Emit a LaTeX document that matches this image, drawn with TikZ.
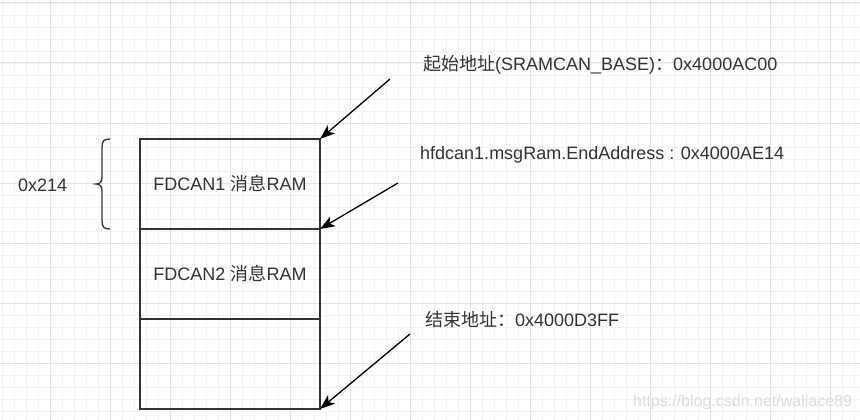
\documentclass[tikz,border=0pt]{standalone}
\usepackage{fontspec}
\setmainfont{Liberation Sans}
\newfontfamily\cjk{Noto Sans CJK SC}
\usetikzlibrary{positioning,arrows.meta}
\definecolor{gridmajor}{HTML}{E3E3E3}
\definecolor{gridminor}{HTML}{F3F3F3}
\definecolor{boxline}{HTML}{333333}
\definecolor{wmark}{HTML}{DDDDDD}
\tikzset{
  cell/.style={draw=boxline,line width=1.5pt,minimum width=180pt,minimum height=90pt,
    inner sep=0pt,outer sep=0pt,text=boxline,font=\fontsize{18}{22}\selectfont},
  addr/.style={anchor=west,inner sep=0pt,text=boxline,font=\fontsize{18}{22}\selectfont},
  ptr/.style={-{Stealth[length=15pt,width=11pt,inset=4pt]},line width=1.3pt},
}
\begin{document}
\begin{tikzpicture}[x=1pt,y=-1pt]
    \useasboundingbox (0,0) rectangle (860,420);
    \fill[white] (0,0) rectangle (860,420);
    % --- griglia di sfondo ---
    \foreach \i in {0,...,71}{\draw[gridminor,line width=0.8pt] (2+12*\i,0) -- (2+12*\i,420);}
    \foreach \j in {0,...,34}{\draw[gridminor,line width=0.8pt] (0,3+12*\j) -- (860,3+12*\j);}
    \foreach \i in {0,...,13}{\draw[gridmajor,line width=1pt] (50+60*\i,0) -- (50+60*\i,420);}
    \foreach \j in {0,...,6}{\draw[gridmajor,line width=1pt] (0,3+60*\j) -- (860,3+60*\j);}
    % --- blocchi di RAM ---
    \node[cell] (ram1) at (230,184) {FDCAN1 {\cjk 消息}RAM};
    \node[cell,below=0pt of ram1] (ram2) {FDCAN2 {\cjk 消息}RAM};
    \node[cell,below=0pt of ram2] (ram3) {};
    % --- graffa e dimensione ---
    \draw[boxline,line width=1.3pt] (110,139) .. controls (104,139) and (102,141) .. (102,147)
      -- (102,177) .. controls (102,182) and (100,184) .. (96,184)
      .. controls (100,184) and (102,186) .. (102,191)
      -- (102,221) .. controls (102,227) and (104,229) .. (110,229);
    \node[addr] (size) at (18,185) {0x214};
    % --- indirizzi ---
    \node[addr] (start) at (423,65) {{\cjk 起始地址}(SRAMCAN\_BASE){\cjk ：}0x4000AC00};
    \node[addr] (endone) at (420,155) {hfdcan1.msgRam.EndAddress : 0x4000AE14};
    \node[addr] (stop) at (425,320) {{\cjk 结束地址：}0x4000D3FF};
    \coordinate (p1) at (390,79);
    \coordinate (p2) at (398,183);
    \coordinate (p3) at (410,334);
    \draw[ptr] (p1) -- (ram1.north east);
    \draw[ptr] (p2) -- (ram1.south east);
    \draw[ptr] (p3) -- (ram3.south east);
    \node[anchor=west,inner sep=0pt,text=wmark,font=\fontsize{16}{19}\selectfont] (wm) at (633,402)
      {https://blog.csdn.net/wallace89};
  \end{tikzpicture}
\end{document}
